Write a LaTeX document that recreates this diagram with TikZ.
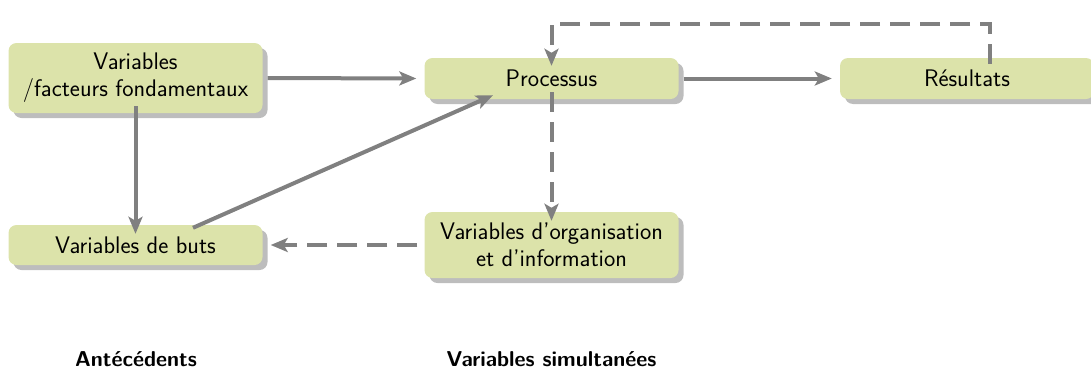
\documentclass[tikz,border=0pt]{standalone}
\usepackage{fontspec}
\usetikzlibrary{arrows.meta,shadows}
\definecolor{boxfill}{HTML}{DCE3AA}
\definecolor{shadowgray}{HTML}{BDBDBD}
\definecolor{linegray}{HTML}{808080}
\tikzset{
  box/.style={rectangle, rounded corners=8pt, fill=boxfill, minimum width=254pt,
    align=center, inner sep=2pt,
    font=\sffamily\fontsize{24}{27}\selectfont,
    drop shadow={shadow xshift=5pt, shadow yshift=-5pt, fill=shadowgray, opacity=1}},
  arr/.style={draw=linegray, line width=4pt, -{Stealth[length=17pt,width=14pt,inset=4pt]}},
  darr/.style={arr, dash pattern=on 20pt off 10pt},
  collabel/.style={font=\sffamily\bfseries\fontsize{21.5}{25}\selectfont}
}
\begin{document}
\begin{tikzpicture}[x=1pt,y=-1pt]
\useasboundingbox (0,0) rectangle (1091,370);
\clip (0,0) rectangle (1091,370);
\node[box, minimum height=70pt] (vf) at (135.5,78) {Variables\\/facteurs fondamentaux};
\node[box, minimum height=41pt] (pr) at (551.5,78.5) {Processus};
\node[box, minimum height=41pt] (rs) at (967,78.5) {Résultats};
\node[box, minimum height=40pt] (vb) at (135.5,245) {Variables de buts};
\node[box, minimum height=66pt] (vo) at (551.5,245) {Variables d’organisation\\et d’information};
\node[collabel] (ant) at (136,359) {Antécédents};
\node[collabel] (sim) at (551.5,359) {Variables simultanées};
\draw[arr] ([xshift=5pt]vf.east) -- ([xshift=-8pt]pr.west);
\draw[arr] ([xshift=5pt]pr.east) -- ([xshift=-8pt]rs.west);
\draw[arr] ([yshift=7pt]vf.south) -- ([yshift=-9pt]vb.north);
\draw[arr] ([xshift=57.5pt,yshift=-3pt]vb.north) -- ([xshift=-58.5pt,yshift=4pt]pr.south);
\draw[darr] ([yshift=7pt]pr.south) -- ([yshift=-9pt]vo.north);
\draw[darr] ([xshift=-7pt]vo.west) -- ([xshift=8pt]vb.east);
\draw[darr] ([xshift=23pt,yshift=-6pt]rs.north) -- ++(0,-40) -| ([yshift=-8pt]pr.north);
\end{tikzpicture}
\end{document}
